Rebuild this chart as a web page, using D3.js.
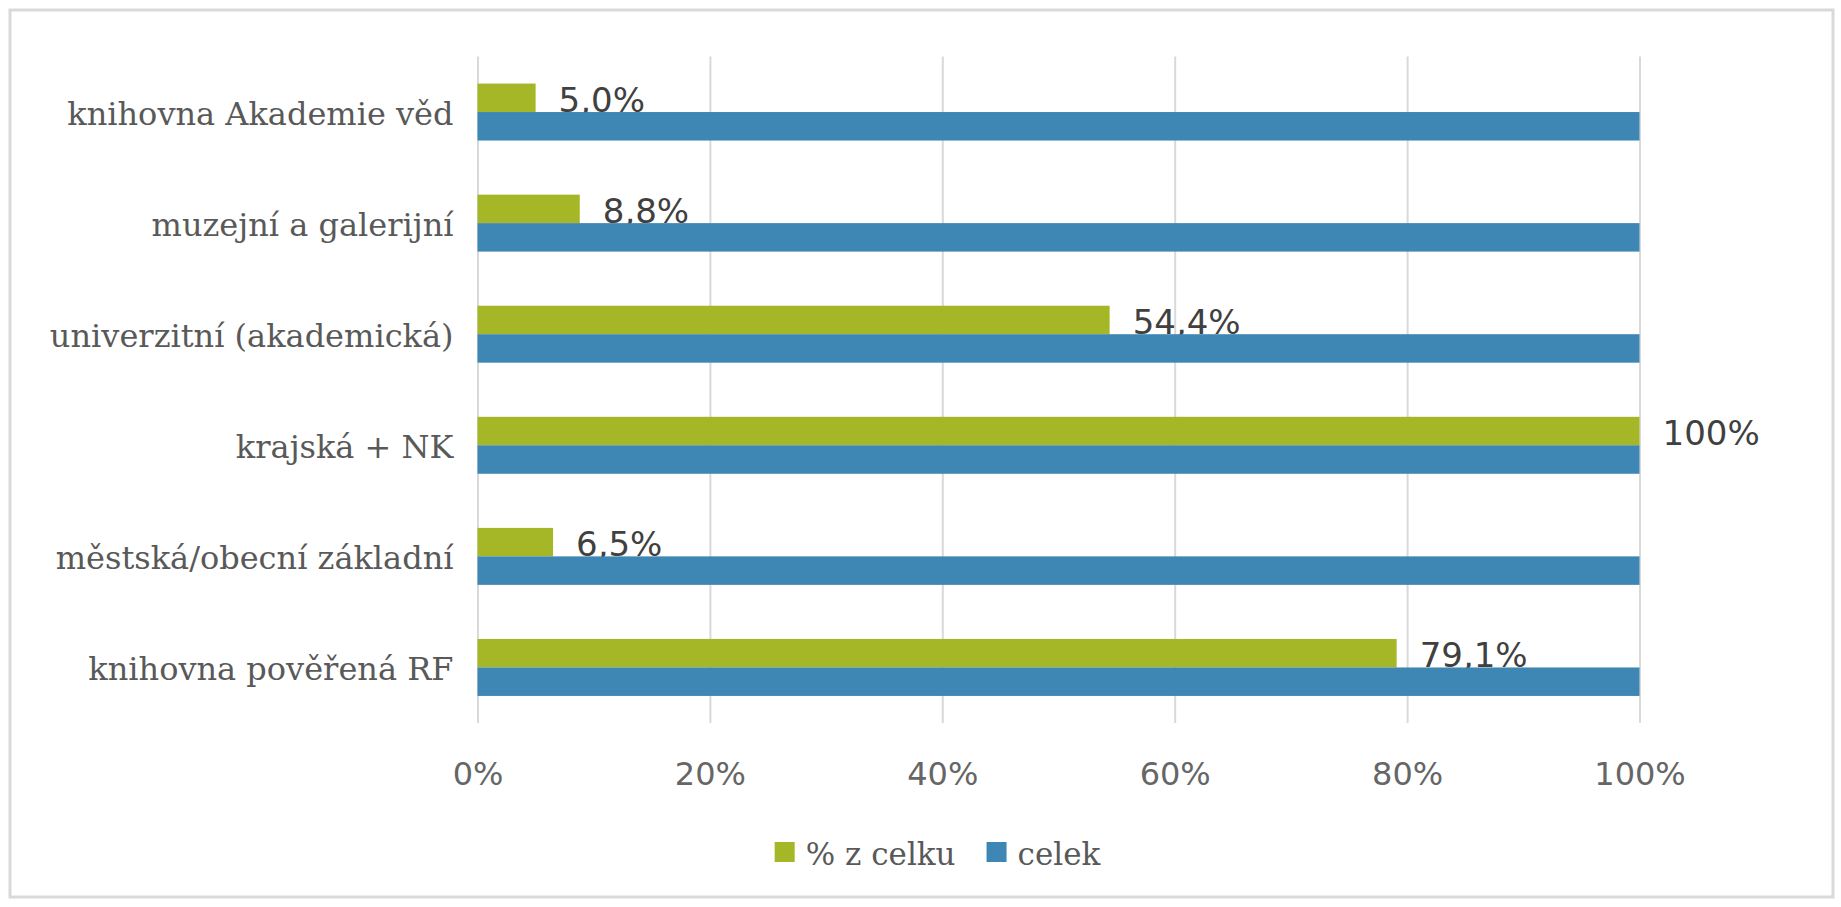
<!DOCTYPE html>
<html>
<head>
<meta charset="utf-8">
<script src="https://cdn.jsdelivr.net/npm/d3@7/dist/d3.min.js"></script>
<style>
    body { margin: 0; background: #ffffff; }
    svg { display: block; }
</style>
</head>
<body>
<svg id="chart" width="1841" height="907"></svg>
<script>
// data
var categories  = ['knihovna Akademie věd', 'muzejní a galerijní', 'univerzitní (akademická)',
                   'krajská + NK', 'městská/obecní základní', 'knihovna pověřená RF'];
var share       = [0.050, 0.088, 0.544, 1.000, 0.065, 0.791];
var whole       = [1, 1, 1, 1, 1, 1];
var series      = ['% z celku', 'celek'];
var tick_values = [0, 0.2, 0.4, 0.6, 0.8, 1.0];

// colors
var colors = { '% z celku': '#a5b727', 'celek': '#3e86b3' };

// czech number format
var locale = d3.formatLocale({ decimal: ',', thousands: ' ', grouping: [3], currency: ['', ' Kč'] });
var fmt_label = function(v) { return v >= 1 ? locale.format('.0%')(v) : locale.format('.1%')(v); };

// canvas
var svg = d3.select('#chart');

// frame
svg.append('rect')
   .attr('x', 10).attr('y', 10)
   .attr('width', 1823).attr('height', 887)
   .attr('fill', '#ffffff')
   .attr('stroke', '#d9d9d9')
   .attr('stroke-width', 3);

// scales
var x = d3.scaleLinear().domain([0, 1]).range([477.5, 1639.5]);
var y = d3.scaleBand().domain(categories).range([56.5, 723]).paddingInner(0).paddingOuter(0);
var y_inner = d3.scaleBand().domain(series).range([0, y.bandwidth()]).paddingInner(0).paddingOuter(0.95);

// grid lines
var grid = svg.append('g')
    .attr('transform', 'translate(0,723)')
    .call(d3.axisBottom(x).tickValues(tick_values).tickSize(-(723 - 56.5)).tickFormat(''));
grid.select('.domain').remove();
grid.selectAll('.tick line').attr('stroke', '#d9d9d9').attr('stroke-width', 2);

// tick labels
var axis = svg.append('g')
    .attr('transform', 'translate(0,785)')
    .call(d3.axisBottom(x).tickValues(tick_values).tickSize(0).tickPadding(0).tickFormat(locale.format('.0%')));
axis.select('.domain').remove();
axis.selectAll('.tick text')
    .attr('dy', 0)
    .attr('font-family', 'DejaVu Sans')
    .attr('font-size', 32)
    .attr('fill', '#666666');

// category labels
svg.append('g').selectAll('text')
    .data(categories)
    .enter().append('text')
    .attr('x', x(0) - 24)
    .attr('y', function(d) { return y(d) + y.bandwidth() / 2 + 13; })
    .attr('text-anchor', 'end')
    .attr('font-family', 'DejaVu Serif')
    .attr('font-size', 32)
    .attr('fill', '#595959')
    .text(function(d) { return d; });

// green bars
var rows = categories.map(function(c, i) { return { cat: c, share: share[i], whole: whole[i] }; });
svg.append('g').selectAll('rect')
    .data(rows)
    .enter().append('rect')
    .attr('x', x(0))
    .attr('y', function(d) { return y(d.cat) + y_inner('% z celku'); })
    .attr('width', function(d) { return x(d.share) - x(0); })
    .attr('height', y_inner.bandwidth())
    .attr('fill', colors['% z celku']);

// data labels (drawn before blue bars, which overlap them)
svg.append('g').selectAll('text')
    .data(rows)
    .enter().append('text')
    .attr('x', function(d) { return x(d.share) + 23; })
    .attr('y', function(d) { return y(d.cat) + y_inner('% z celku') + y_inner.bandwidth(); })
    .attr('font-family', 'DejaVu Sans')
    .attr('font-size', 34)
    .attr('fill', '#404040')
    .text(function(d) { return fmt_label(d.share); });

// blue bars
svg.append('g').selectAll('rect')
    .data(rows)
    .enter().append('rect')
    .attr('x', x(0))
    .attr('y', function(d) { return y(d.cat) + y_inner('celek'); })
    .attr('width', function(d) { return x(d.whole) - x(0); })
    .attr('height', y_inner.bandwidth())
    .attr('fill', colors['celek']);

// legend
var legend = svg.append('g');
var cursor = 0;
series.forEach(function(s) {
    var item = legend.append('g').attr('transform', 'translate(' + cursor + ',0)');
    item.append('rect')
        .attr('x', 0).attr('y', 842)
        .attr('width', 20).attr('height', 20)
        .attr('fill', colors[s]);
    var label = item.append('text')
        .attr('x', 31).attr('y', 865)
        .attr('font-family', 'DejaVu Serif')
        .attr('font-size', 31)
        .attr('fill', '#595959')
        .text(s);
    cursor += 31 + label.node().getComputedTextLength() + 31;
});
var legend_width = cursor - 31;
legend.attr('transform', 'translate(' + (937.5 - legend_width / 2) + ',0)');
</script>
</body>
</html>
